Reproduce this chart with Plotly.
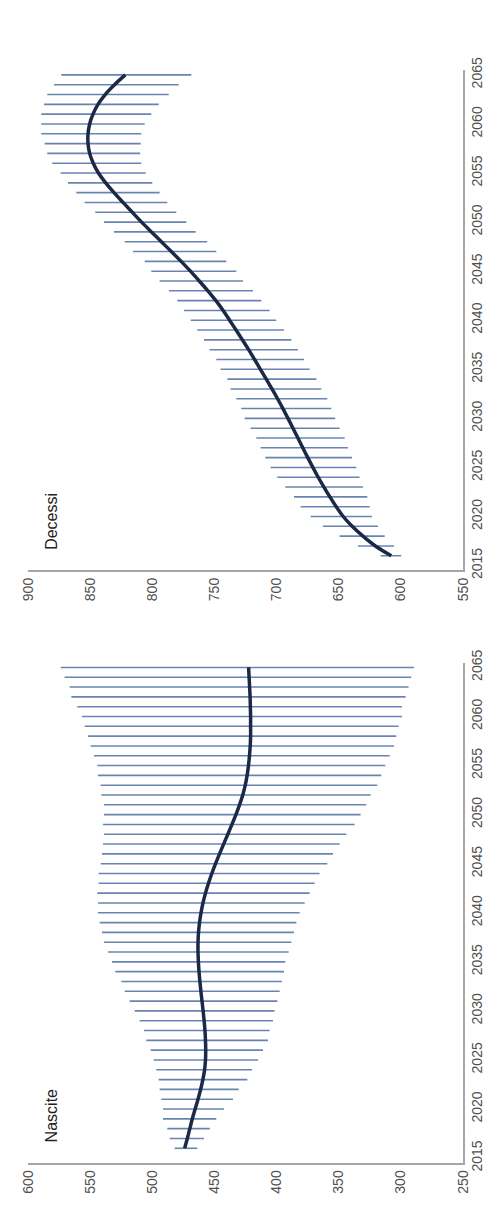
import plotly.graph_objects as go

years = list(range(2016, 2066))

# Decessi (thousands)
dec_med = [607.7, 620.5, 630.5, 639.2, 646.4, 652.0, 657.1, 661.9, 666.5, 670.8,
           674.9, 678.9, 682.8, 686.8, 690.8, 694.9, 699.2, 703.7, 708.3, 713.0,
           717.7, 722.5, 727.5, 732.6, 737.8, 743.0, 748.8, 755.3, 762.2, 769.3,
           776.8, 784.7, 792.7, 800.7, 808.6, 816.1, 823.5, 830.8, 837.5, 843.3,
           847.5, 850.4, 851.7, 851.7, 850.4, 847.7, 843.7, 837.9, 830.4, 821.7]
dec_hi = [616.3, 634.5, 649.3, 662.7, 672.6, 680.6, 686.0, 693.0, 699.4, 704.8,
          709.1, 712.8, 716.3, 720.9, 725.7, 728.4, 732.4, 737.0, 739.6, 745.0,
          748.5, 753.9, 758.4, 763.8, 769.1, 774.5, 779.9, 786.6, 794.1, 800.8,
          806.1, 815.5, 822.2, 830.8, 838.9, 845.9, 854.4, 861.1, 867.8, 873.7,
          880.5, 884.5, 886.6, 889.3, 889.3, 889.3, 887.1, 884.5, 879.1, 873.2]
dec_lo = [599.7, 605.5, 613.0, 618.4, 623.3, 625.1, 627.0, 630.5, 633.2, 635.9,
          639.3, 642.6, 645.2, 649.3, 652.8, 656.0, 659.2, 664.0, 668.0, 673.4,
          677.9, 682.8, 688.1, 694.0, 700.2, 705.6, 712.3, 719.0, 727.0, 732.4,
          740.5, 748.5, 755.8, 765.1, 772.6, 780.7, 787.9, 794.1, 800.0, 805.3,
          808.9, 809.7, 809.3, 808.9, 806.1, 800.8, 794.9, 786.8, 778.8, 768.6]

# Nascite (thousands)
nas_med = [474.0, 471.8, 469.8, 467.8, 465.5, 463.2, 461.1, 459.3, 457.9, 457.2,
           457.0, 457.2, 457.6, 458.3, 459.1, 460.0, 460.9, 461.7, 462.4, 462.9,
           463.2, 463.2, 462.8, 462.0, 460.8, 459.2, 457.2, 454.8, 452.1, 449.1,
           445.9, 442.6, 439.2, 435.9, 432.7, 429.8, 427.2, 425.2, 423.7, 422.6,
           421.8, 421.2, 420.9, 420.9, 420.9, 421.1, 421.3, 421.7, 422.1, 422.5]
nas_hi = [482.0, 486.0, 487.9, 491.4, 491.4, 492.7, 494.1, 494.9, 496.8, 498.9,
          501.3, 504.8, 506.7, 510.2, 514.2, 518.2, 522.2, 524.9, 529.7, 532.4,
          535.6, 538.9, 540.5, 542.3, 543.7, 543.7, 544.2, 543.2, 543.2, 541.5,
          540.5, 539.7, 538.9, 539.7, 538.9, 538.9, 541.0, 541.5, 543.7, 544.2,
          546.9, 549.6, 551.7, 554.4, 556.6, 560.3, 565.1, 566.5, 570.5, 573.7]
nas_lo = [463.8, 458.4, 453.8, 448.5, 442.3, 435.1, 430.5, 423.5, 419.8, 414.9,
          410.9, 406.9, 405.6, 402.9, 401.6, 399.4, 397.5, 395.7, 394.0, 393.0,
          390.3, 388.1, 386.0, 384.1, 381.4, 377.4, 373.4, 369.4, 365.4, 359.2,
          354.6, 349.3, 343.9, 337.2, 332.4, 327.8, 324.3, 319.0, 315.7, 312.5,
          309.0, 305.5, 303.7, 301.8, 299.1, 299.1, 296.2, 293.8, 291.6, 289.4]

year_ticks = [2015, 2020, 2025, 2030, 2035, 2040, 2045, 2050, 2055, 2060, 2065]
dec_ticks = [550, 600, 650, 700, 750, 800, 850, 900]
nas_ticks = [250, 300, 350, 400, 450, 500, 550, 600]

BAR_COLOR = "#6a84b0"
MED_COLOR = "#1b2946"
FONT = "Liberation Sans, Arial, sans-serif"


def bar_xy(lo, hi):
    xs, ys = [], []
    for yr, a, b in zip(years, lo, hi):
        xs += [a, b, None]
        ys += [yr, yr, None]
    return xs, ys


fig = go.Figure()

for lo, hi, med, xa, ya in [(dec_lo, dec_hi, dec_med, "x", "y"),
                            (nas_lo, nas_hi, nas_med, "x2", "y2")]:
    bx, by = bar_xy(lo, hi)
    fig.add_trace(go.Scatter(x=bx, y=by, mode="lines", xaxis=xa, yaxis=ya,
                             line=dict(color=BAR_COLOR, width=1.6),
                             hoverinfo="skip", showlegend=False))
    fig.add_trace(go.Scatter(x=med, y=years, mode="lines", xaxis=xa, yaxis=ya,
                             line=dict(color=MED_COLOR, width=3.5, shape="spline",
                                       smoothing=1.0),
                             showlegend=False))

axis_common = dict(showgrid=False, zeroline=False, showline=True,
                   linecolor="#a6a6a6", linewidth=1.5, ticks="",
                   tickangle=-90, tickfont=dict(family=FONT, size=14, color="#505050"))

fig.update_layout(
    width=496, height=1209,
    margin=dict(l=20, r=41, t=62, b=54),
    paper_bgcolor="white", plot_bgcolor="white",
    showlegend=False,
    xaxis=dict(range=[900, 550], tickvals=dec_ticks, anchor="y", **axis_common),
    yaxis=dict(range=[2014.5, 2065.5], tickvals=year_ticks, side="right",
               anchor="x", domain=[0.5421, 1.0], **axis_common),
    xaxis2=dict(range=[600, 250], tickvals=nas_ticks, anchor="y2", **axis_common),
    yaxis2=dict(range=[2014.5, 2065.5], tickvals=year_ticks, side="right",
                anchor="x2", domain=[0.0, 0.4579], **axis_common),
    annotations=[
        dict(text="Decessi", xref="x domain", yref="y domain", x=0.055, y=0.099,
             xanchor="center", yanchor="middle", textangle=-90, showarrow=False,
             font=dict(family=FONT, size=16, color="#222222")),
        dict(text="Nascite", xref="x2 domain", yref="y2 domain", x=0.055, y=0.095,
             xanchor="center", yanchor="middle", textangle=-90, showarrow=False,
             font=dict(family=FONT, size=16, color="#222222")),
    ],
)

fig.write_html("out.html")
